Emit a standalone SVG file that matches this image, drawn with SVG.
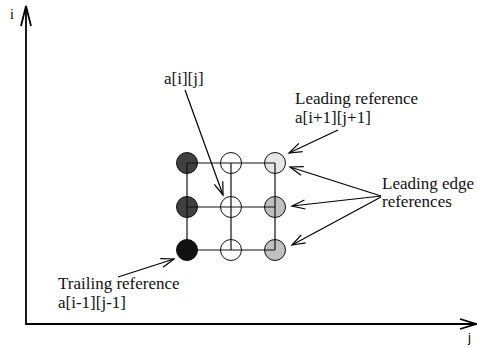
<svg xmlns="http://www.w3.org/2000/svg" width="477" height="348" viewBox="0 0 477 348">
<style>
.t{font-family:"Liberation Serif","Times New Roman",serif;font-size:17px;fill:#111}
.ax{stroke:#000;stroke-width:1.8;fill:none}
.g{stroke:#111;stroke-width:1.2;fill:none}
.c{stroke:#111;stroke-width:1}
.ar{stroke:#000;stroke-width:1.2;fill:none;marker-end:url(#v)}
</style>
<defs>
<marker id="v" markerUnits="userSpaceOnUse" viewBox="-14 -6 16 12" refX="0" refY="0" markerWidth="16" markerHeight="12" orient="auto" overflow="visible">
<path d="M-13,-4.5 L0,0 L-13,4.5" fill="none" stroke="#000" stroke-width="1.2"/>
</marker>
</defs>
<g id="axes">
<path class="ax" d="M26,6 V324 H476"/>
<path class="ax" d="M21,26 L26,6 L31,26"/>
<path class="ax" d="M460,319 L476,324 L460,329"/>
<text x="10" y="19" style="font-family:'Liberation Serif',serif;font-size:14px">i</text>
<text x="468" y="342" style="font-family:'Liberation Sans',Arial,sans-serif;font-size:13px">j</text>
</g>
<g id="nodes">
<g id="n00"><circle class="c" cx="187" cy="163" r="10.5" fill="#404040"/></g>
<g id="n01"><circle class="c" cx="231" cy="163" r="10.5" fill="#fff"/></g>
<g id="n02"><circle class="c" cx="275" cy="163" r="10.5" fill="#e6e6e6"/></g>
<g id="n10"><circle class="c" cx="187" cy="207" r="10.5" fill="#404040"/></g>
<g id="n11"><circle class="c" cx="231" cy="207" r="10.5" fill="#fff"/></g>
<g id="n12"><circle class="c" cx="275" cy="207" r="10.5" fill="#c0c0c0"/></g>
<g id="n20"><circle class="c" cx="187" cy="250" r="10.5" fill="#111"/></g>
<g id="n21"><circle class="c" cx="231" cy="250" r="10.5" fill="#fff"/></g>
<g id="n22"><circle class="c" cx="275" cy="250" r="10.5" fill="#c0c0c0"/></g>
</g>
<g id="grid">
<path class="g" d="M187,163 H275 M187,207 H275 M187,250 H275 M187,163 V250 M231,163 V250 M275,163 V250"/>
</g>
<g id="labels">
<text class="t" x="164" y="84">a[i][j]</text>
<text class="t" x="295" y="104">Leading reference</text>
<text class="t" x="295" y="123">a[i+1][j+1]</text>
<text class="t" x="382" y="189">Leading edge</text>
<text class="t" x="382" y="207">references</text>
<text class="t" x="58" y="289">Trailing reference</text>
<text class="t" x="58" y="308">a[i-1][j-1]</text>
</g>
<g id="connectors">
<path class="ar" d="M185,90 L223,195"/>
<path class="ar" d="M338,130 L289,153"/>
<path class="ar" d="M381,196 L290,167"/>
<path class="ar" d="M381,196 L292,206"/>
<path class="ar" d="M381,197 L292,245"/>
<path class="ar" d="M118,277 L174,259"/>
</g>
</svg>
